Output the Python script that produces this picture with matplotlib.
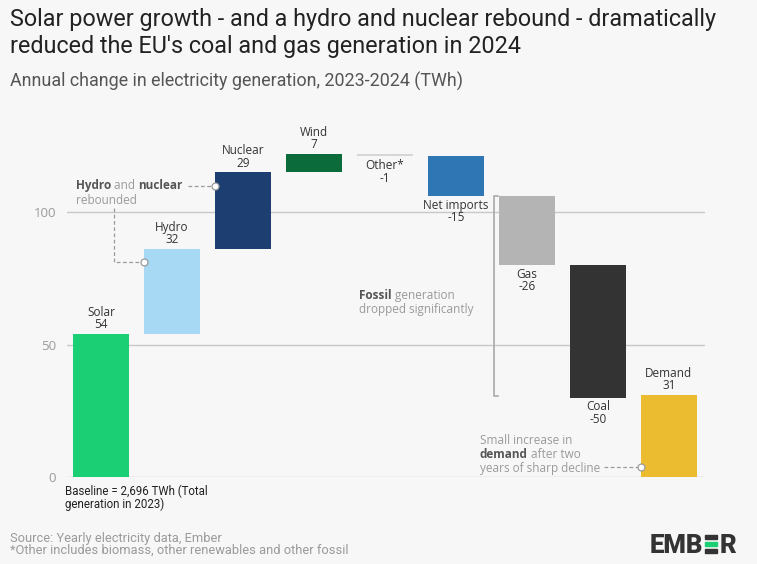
import numpy as np
import matplotlib
matplotlib.use("Agg")
import matplotlib.pyplot as plt
from matplotlib.transforms import IdentityTransform

# data
sources = ["Solar", "Hydro", "Nuclear", "Wind", "Other*", "Net imports", "Gas", "Coal", "Demand"]
changes = [54, 32, 29, 7, -1, -15, -26, -50, 31]
colors = ["#1BCF75", "#A7D8F4", "#1D3E70", "#0B6B3A", "#D6D6D6",
          "#2E77B4", "#B4B4B4", "#333333", "#EBBC30"]
yticks = [0, 50, 100]

BG = "#F7F7F7"
W, H = 757, 564
plt.rcParams["font.family"] = ["Roboto", "DejaVu Sans"]

fig = plt.figure(figsize=(W / 100, H / 100), dpi=100, facecolor=BG)
ax = fig.add_axes([67 / W, 1 - 477 / H, (705 - 67) / W, (477 - 130) / H])
ax.set_facecolor(BG)

# waterfall bottoms; last bar (demand) is a total from zero
bottoms = []
run = 0
for i, v in enumerate(changes):
    if i == len(changes) - 1:
        bottoms.append(0)
    else:
        bottoms.append(run)
        run += v
x = np.arange(len(sources))
ax.bar(x, changes, bottom=bottoms, width=0.79, color=colors, zorder=3)

for xi, name, v, b in zip(x, sources, changes, bottoms):
    if v >= 0:
        ax.annotate(f"{name}\n{v}", (xi, b + v), xytext=(0, 2), textcoords="offset points",
                    ha="center", va="bottom", fontsize=8.5, color="#333333",
                    family=["Open Sans", "DejaVu Sans"], linespacing=0.95)
    else:
        ax.annotate(f"{name}\n{v}", (xi, b + v), xytext=(0, -2), textcoords="offset points",
                    ha="center", va="top", fontsize=8.5, color="#333333",
                    family=["Open Sans", "DejaVu Sans"], linespacing=0.95)

ax.set_xlim(-0.48, 8.51)
ax.set_ylim(0, 131)
ax.set_yticks(yticks)
ax.set_xticks([])
ax.grid(axis="y", color="#C8C8C8", linewidth=1, zorder=0)
ax.tick_params(axis="y", length=0, pad=8, labelsize=9.5, labelcolor="#9A9A9A")
for lab in ax.get_yticklabels():
    lab.set_family(["Open Sans", "DejaVu Sans"])
for s in ax.spines.values():
    s.set_visible(False)

fig.canvas.draw()
renderer = fig.canvas.get_renderer()


def line(xp, yp, s, **kw):
    # one text line, baseline at image pixel yp (top-left origin)
    return fig.text(xp / W, 1 - yp / H, s, va="baseline", ha="left", **kw)


def rich(xp, yp, parts, size=8.5, fam=("Open Sans", "DejaVu Sans")):
    # parts: (text, bold)
    cx = xp
    for s, bold in parts:
        t = fig.text(cx, H - yp, s, transform=IdentityTransform(), fontsize=size,
                     fontweight="bold" if bold else "normal",
                     color="#555555" if bold else "#9A9A9A",
                     va="baseline", ha="left", family=list(fam))
        cx += t.get_window_extent(renderer).width
    return cx


dash = dict(color="#9A9A9A", linewidth=0.9, linestyle=(0, (3, 2)), zorder=4, clip_on=False)
dot = dict(marker="o", markersize=5, markerfacecolor="white", markeredgecolor="#9A9A9A",
           markeredgewidth=0.9, zorder=5, clip_on=False, linestyle="none")

# hydro and nuclear note
end = rich(76, 189, [("Hydro", True), (" and ", False), ("nuclear", True)])
rich(76, 204, [("rebounded", False)])
y_nuc = 110
xs = ax.transData.inverted().transform((end + 5, 0))[0]
ax.plot([xs, 1.605], [y_nuc, y_nuc], **dash)
ax.plot([1.605], [y_nuc], **dot)
ax.plot([0.183, 0.183, 0.605], [101.5, 81.1, 81.1], **dash)
ax.plot([0.605], [81.1], **dot)

# fossil note
rich(359, 299, [("Fossil", True), (" generation", False)])
rich(359, 313, [("dropped significantly", False)])
ax.plot([5.6, 5.535, 5.535, 5.6], [106, 106, 30.6, 30.6], color="#AAAAAA",
        linewidth=1.2, zorder=4, clip_on=False)

# demand note
rich(480, 444, [("Small increase in", False)])
rich(480, 458, [("demand", True), (" after two", False)])
end = rich(480, 472, [("years of sharp decline", False)])
xs = ax.transData.inverted().transform((end + 4, 0))[0]
ax.plot([xs, 7.605], [3.6, 3.6], **dash)
ax.plot([7.605], [3.6], **dot)

# baseline
line(65, 495, "Baseline = 2,696 TWh (Total", fontsize=8.3, color="#222222")
line(65, 508, "generation in 2023)", fontsize=8.3, color="#222222")

# titles
line(10, 26, "Solar power growth - and a hydro and nuclear rebound - dramatically",
     fontsize=16.8, color="#222222")
line(10, 53, "reduced the EU's coal and gas generation in 2024", fontsize=16.8, color="#222222")
line(10, 87, "Annual change in electricity generation, 2023-2024 (TWh)",
     fontsize=12.9, color="#555555")

# source
line(10, 542, "Source: Yearly electricity data, Ember", fontsize=9.3, color="#9A9A9A")
line(10, 554, "*Other includes biomass, other renewables and other fossil", fontsize=9.3,
     color="#9A9A9A")

# logo
t = fig.text(650, H - 553, "EMB", transform=IdentityTransform(), fontsize=18.5,
             fontweight="black", color="#333333", va="baseline", ha="left",
             family=["Roboto", "DejaVu Sans"])
ex = 650 + t.get_window_extent(renderer).width + 2
for k, c in enumerate(["#333333", "#1BCF75", "#333333"]):
    yb = 535 + k * 7
    fig.patches.append(plt.Rectangle((ex, H - yb - 3.6), 12, 3.6, transform=IdentityTransform(),
                                     color=c, figure=fig))
fig.text(ex + 14, H - 553, "R", transform=IdentityTransform(), fontsize=18.5,
         fontweight="black", color="#333333", va="baseline", ha="left",
         family=["Roboto", "DejaVu Sans"])

fig.savefig("out.png", dpi=100, facecolor=BG)
